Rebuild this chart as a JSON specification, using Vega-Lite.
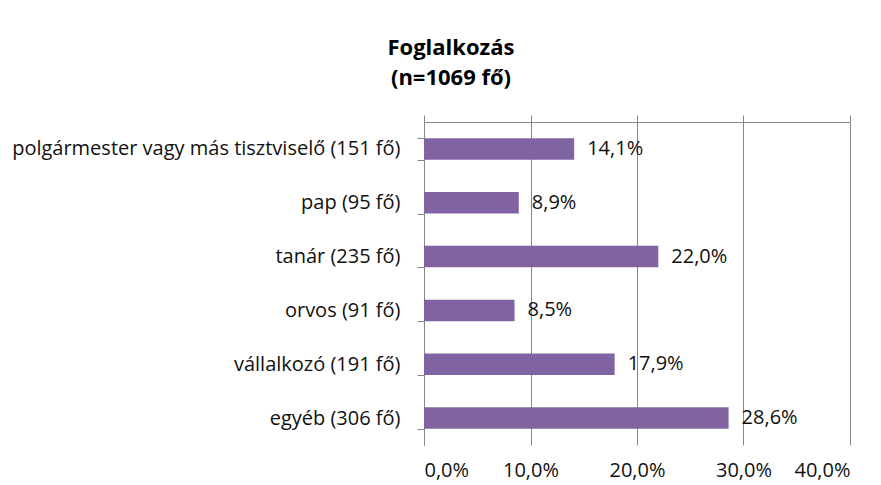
{
  "$schema": "https://vega.github.io/schema/vega-lite/v6.json",
  "autosize": {"type": "none"},
  "padding": {"left": 424, "top": 122, "right": 31, "bottom": 40},
  "width": 426,
  "height": 323,
  "background": "white",
  "title": {
    "text": ["Foglalkozás", "(n=1069 fő)"],
    "font": "Open Sans",
    "fontSize": 22,
    "fontWeight": "bold",
    "color": "#000000",
    "lineHeight": 30,
    "anchor": "middle",
    "dx": -186,
    "offset": 22
  },
  "config": {
    "locale": {"number": {"decimal": ",", "thousands": " ", "grouping": [3], "currency": ["", " Ft"]}},
    "view": {"stroke": null},
    "font": "Open Sans"
  },
  "data": {
    "values": [
      {"category": "polgármester vagy más tisztviselő (151 fő)", "share": 0.141},
      {"category": "pap (95 fő)", "share": 0.089},
      {"category": "tanár (235 fő)", "share": 0.220},
      {"category": "orvos (91 fő)", "share": 0.085},
      {"category": "vállalkozó (191 fő)", "share": 0.179},
      {"category": "egyéb (306 fő)", "share": 0.286}
    ]
  },
  "encoding": {
    "y": {
      "field": "category",
      "type": "nominal",
      "sort": null,
      "title": null,
      "scale": {"paddingInner": 0.6, "paddingOuter": 0.3},
      "axis": {
        "tickBand": "extent",
        "tickSize": 7,
        "tickColor": "#868686",
        "domainColor": "#868686",
        "labelFont": "Open Sans",
        "labelFontSize": 20,
        "labelColor": "#111111",
        "labelPadding": 17,
        "labelLimit": 500,
        "grid": false
      }
    }
  },
  "layer": [
    {
      "mark": {"type": "bar", "color": "#8064A2"},
      "encoding": {
        "x": {
          "field": "share",
          "type": "quantitative",
          "title": null,
          "scale": {"domain": [0, 0.4], "nice": false},
          "axis": {
            "orient": "bottom",
            "values": [0, 0.1, 0.2, 0.3, 0.4],
            "format": ".1%",
            "domain": false,
            "ticks": false,
            "grid": true,
            "gridColor": "#868686",
            "gridWidth": 1,
            "labelFont": "Open Sans",
            "labelFontSize": 20,
            "labelColor": "#111111",
            "labelPadding": 15,
            "labelBaseline": "top"
          }
        }
      }
    },
    {
      "mark": {"type": "text", "align": "left", "baseline": "middle", "dx": 13, "font": "Open Sans", "fontSize": 20, "color": "#111111"},
      "encoding": {
        "x": {
          "field": "share",
          "type": "quantitative",
          "title": null,
          "scale": {"domain": [0, 0.4], "nice": false},
          "axis": {
            "orient": "top",
            "values": [0, 0.1, 0.2, 0.3, 0.4],
            "labels": false,
            "domain": true,
            "domainColor": "#868686",
            "ticks": true,
            "tickSize": 7,
            "tickColor": "#868686",
            "grid": false
          }
        },
        "text": {"field": "share", "type": "quantitative", "format": ".1%"}
      }
    }
  ],
  "resolve": {"axis": {"x": "independent"}}
}
